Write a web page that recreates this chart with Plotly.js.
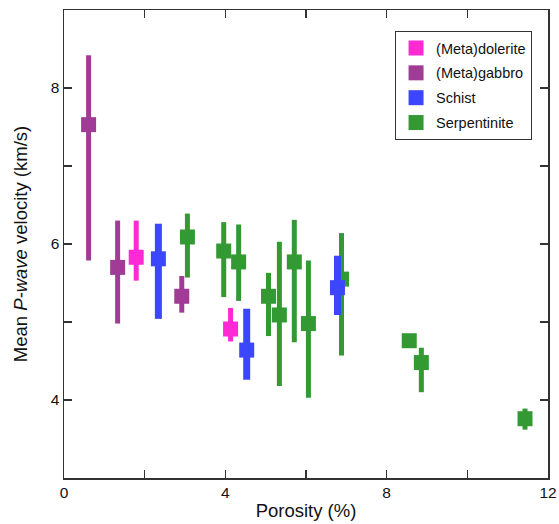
<!DOCTYPE html>
<html>
<head>
<meta charset="utf-8">
<script src="https://cdn.plot.ly/plotly-3.0.1.min.js"></script>
<style>html,body{margin:0;padding:0;background:#fff;}#chart{width:559px;height:524px;}</style>
</head>
<body>
<div id="chart"></div>
<script>
// Porosity (%), mean P-wave velocity (km/s), and range (lo/hi)
const doleriteX  = [1.79, 4.13];
const doleriteY  = [5.83, 4.91];
const doleriteHi = [6.30, 5.18];
const doleriteLo = [5.53, 4.75];

const gabbroX  = [0.61, 1.33, 2.92];
const gabbroY  = [7.53, 5.70, 5.33];
const gabbroHi = [8.42, 6.30, 5.59];
const gabbroLo = [5.79, 4.98, 5.12];

const schistX  = [2.34, 4.53, 6.78];
const schistY  = [5.81, 4.64, 5.44];
const schistHi = [6.26, 5.17, 5.85];
const schistLo = [5.04, 4.26, 5.09];

const serpX  = [3.06, 3.96, 4.33, 5.07, 5.34, 5.71, 6.06, 6.88, 8.56, 8.86, 11.43];
const serpY  = [6.09, 5.91, 5.77, 5.33, 5.09, 5.77, 4.98, 5.55, 4.76, 4.48, 3.76];
const serpHi = [6.39, 6.28, 6.25, 5.63, 6.03, 6.31, 5.79, 6.14, 4.76, 4.67, 3.89];
const serpLo = [5.57, 5.32, 5.27, 4.82, 4.18, 4.74, 4.03, 4.57, 4.76, 4.10, 3.62];

const seriesNames = ['(Meta)dolerite', '(Meta)gabbro', 'Schist', 'Serpentinite'];
const xTickVals = [0, 2, 4, 6, 8, 10, 12];
const xTickText = ['0', '', '4', '', '8', '', '12'];
const yTickVals = [3, 4, 5, 6, 7, 8, 9];
const yTickText = ['', '4', '', '6', '', '8', ''];

function mk(name, xs, ys, his, los, color, barW, rank) {
  return {
    type: 'scatter', mode: 'markers', name: name,
    x: xs, y: ys,
    legendrank: rank,
    legendgroup: 'g' + rank,
    marker: {symbol: 'square', size: 15, color: color, line: {width: 0}},
    error_y: {
      type: 'data', symmetric: false,
      array: his.map((h, i) => h - ys[i]),
      arrayminus: los.map((l, i) => ys[i] - l),
      color: color, thickness: barW, width: 0
    },
    hoverinfo: 'x+y'
  };
}

const traces = [
  mk(seriesNames[3], serpX, serpY, serpHi, serpLo, '#339933', 5, 4),
  mk(seriesNames[1], gabbroX, gabbroY, gabbroHi, gabbroLo, '#a03c96', 5, 2),
  mk(seriesNames[0], doleriteX, doleriteY, doleriteHi, doleriteLo, '#ff2ad4', 5, 1),
  mk(seriesNames[2], schistX, schistY, schistHi, schistLo, '#3c46ff', 7, 3)
];

const axisCommon = {
  showgrid: false, zeroline: false,
  showline: true, linecolor: '#333', linewidth: 1.5, mirror: 'ticks',
  ticks: 'inside', ticklen: 8, tickwidth: 1.5, tickcolor: '#333',
  tickfont: {family: 'Liberation Sans, Arial, sans-serif', size: 15.5, color: '#111'}
};

const layout = {
  width: 559, height: 524,
  margin: {l: 63.5, r: 11, t: 10, b: 46},
  paper_bgcolor: '#fff', plot_bgcolor: '#fff',
  font: {family: 'Liberation Sans, Arial, sans-serif', color: '#111'},
  showlegend: true,
  legend: {
    x: 0.684, y: 0.955, xanchor: 'left', yanchor: 'top',
    bgcolor: '#fff', bordercolor: '#333', borderwidth: 1,
    font: {family: 'Liberation Sans, Arial, sans-serif', size: 14.5, color: '#111'},
    tracegroupgap: 3, traceorder: 'grouped'
  },
  xaxis: Object.assign({}, axisCommon, {
    range: [0, 12], tickmode: 'array', tickvals: xTickVals, ticktext: xTickText,
    title: {text: 'Porosity (%)', font: {size: 18.5, family: 'Liberation Sans, Arial, sans-serif', color: '#111'}, standoff: 4}
  }),
  yaxis: Object.assign({}, axisCommon, {
    range: [3, 9], tickmode: 'array', tickvals: yTickVals, ticktext: yTickText,
    title: {text: 'Mean <i>P-wave</i> velocity (km/s)', font: {size: 18.5, family: 'Liberation Sans, Arial, sans-serif', color: '#111'}, standoff: 18}
  })
};

Plotly.newPlot('chart', traces, layout, {displayModeBar: false, staticPlot: true});
</script>
</body>
</html>
